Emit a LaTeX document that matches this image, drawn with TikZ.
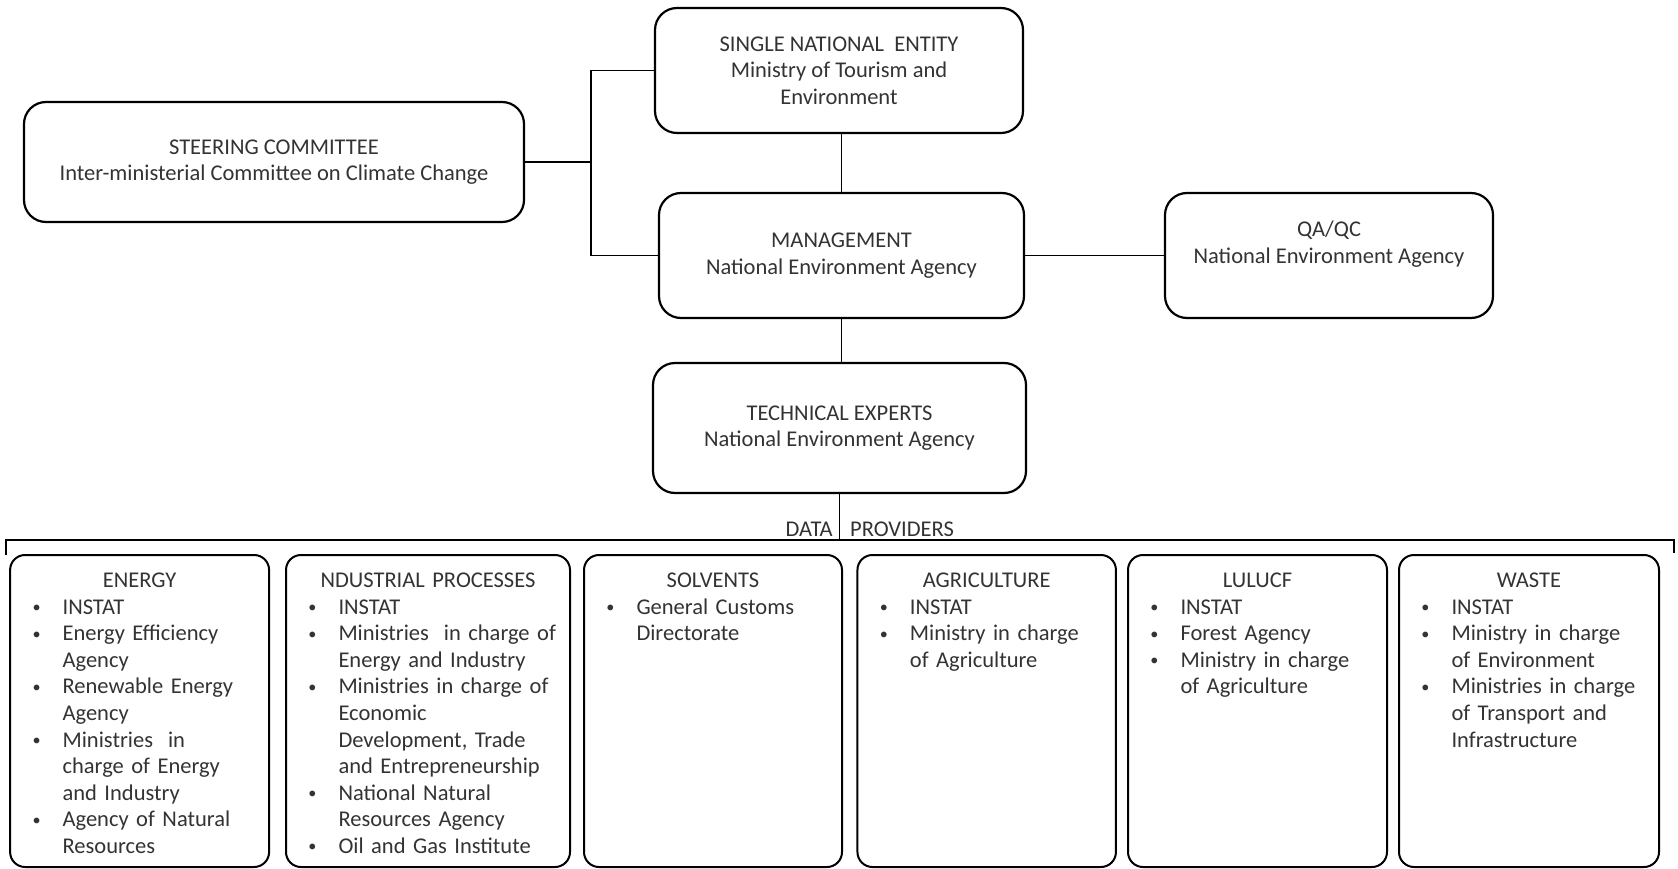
\documentclass[tikz,border=0pt]{standalone}
\usepackage{fontspec}
\setmainfont{Carlito}
\newcommand\bfont{\fontsize{22.5}{26.6}\selectfont}
\newcommand\mybul{\raisebox{1.6pt}{\scalebox{0.72}{\textbullet}}}
\newcommand\bi[1]{\par\noindent\llap{\makebox[0pt]{\mybul}\hspace{26pt}}\mbox{#1}}
\newcommand\cl[1]{\par\noindent\mbox{#1}}
\newcommand\plist[2]{{\centering\strut#1\par}\leftskip=52.5pt\parskip=0pt\parindent=0pt #2\par}
\tikzset{
  box/.style={draw, line width=2.2pt, rounded corners=22pt, inner sep=0pt, align=center, font=\bfont, text=black!80},
  conn/.style={draw, line width=1.3pt},
  prov/.style={draw, line width=2pt, rounded corners=15pt, minimum height=312pt, inner sep=0pt},
  provtext/.style={anchor=north, inner sep=0pt, text width=#1, font=\bfont, text=black!80},
}
\begin{document}
\begin{tikzpicture}[x=1pt,y=-1pt]
\useasboundingbox (0,0) rectangle (1678,869);
% upper boxes
\node[box, minimum width=500pt, minimum height=120pt] (steer) at (274,162) {STEERING COMMITTEE\\Inter-ministerial Committee on Climate Change};
\node[box, minimum width=368pt, minimum height=125pt] (sne) at (839,70.5) {SINGLE NATIONAL\ \ ENTITY\\Ministry of Tourism and\\Environment};
\node[box, minimum width=365pt, minimum height=125pt] (mgmt) at (841.5,255.5) {MANAGEMENT\\National Environment Agency};
\node[box, minimum width=328pt, minimum height=125pt] (qa) at (1329,255.5) {QA/QC\\National Environment Agency\\\mbox{}};
\node[box, minimum width=373pt, minimum height=130pt] (tech) at (839.5,428) {TECHNICAL EXPERTS\\National Environment Agency};
% connectors
\coordinate (j) at (591,162);
\draw[conn] (steer.east) -- (j);
\draw[conn] (sne.west) -| (j) |- (mgmt.west);
\draw[conn] (mgmt.north |- sne.south) -- (mgmt.north);
\draw[conn] (mgmt.east) -- (qa.west);
\draw[conn] (mgmt.south) -- (mgmt.south |- tech.north);
% bracket
\coordinate (bl) at (6,555);
\coordinate (blt) at (6,540);
\coordinate (brt) at (1674,540);
\coordinate (br) at (1674,553);
\draw[conn] (bl) -- (blt) -- (brt) -- (br);
\draw[conn] (tech.south) -- (tech.south |- blt);
\node[anchor=base west, font=\bfont, text=black!80, inner sep=0pt] (dp) at (785.5,536.3) {DATA\hspace{17.5pt}PROVIDERS};
% data provider boxes
\node[prov, minimum width=259pt] (energy) at (139.6,711) {};
\node[prov, minimum width=284pt] (ind) at (428,711) {};
\node[prov, minimum width=258pt] (solv) at (713,711) {};
\node[prov, minimum width=258.5pt] (agri) at (986.7,711) {};
\node[prov, minimum width=259pt] (lulucf) at (1257.5,711) {};
\node[prov, minimum width=260pt] (waste) at (1529,711) {};
\node[provtext=259pt] (energyt) at (139.6,568.6) {\plist{ENERGY}{%
  \bi{INSTAT}\bi{Energy Efficiency}\cl{Agency}\bi{Renewable Energy}\cl{Agency}%
  \bi{Ministries\ \ in}\cl{charge of Energy}\cl{and Industry}\bi{Agency of Natural}\cl{Resources}}};
\node[provtext=284pt] (indt) at (428,568.6) {\plist{NDUSTRIAL PROCESSES}{%
  \bi{INSTAT}\bi{Ministries\ \ in charge of}\cl{Energy and Industry}\bi{Ministries in charge of}%
  \cl{Economic}\cl{Development, Trade}\cl{and Entrepreneurship}\bi{National Natural}\cl{Resources Agency}%
  \bi{Oil and Gas Institute}}};
\node[provtext=258pt] (solvt) at (713,568.6) {\plist{SOLVENTS}{\bi{General Customs}\cl{Directorate}}};
\node[provtext=258.5pt] (agrit) at (986.7,568.6) {\plist{AGRICULTURE}{\bi{INSTAT}\bi{Ministry in charge}\cl{of Agriculture}}};
\node[provtext=259pt] (lulucft) at (1257.5,568.6) {\plist{LULUCF}{\bi{INSTAT}\bi{Forest Agency}\bi{Ministry in charge}\cl{of Agriculture}}};
\node[provtext=260pt] (wastet) at (1529,568.6) {\plist{WASTE}{\bi{INSTAT}\bi{Ministry in charge}\cl{of Environment}\bi{Ministries in charge}\cl{of Transport and}\cl{Infrastructure}}};
\end{tikzpicture}
\end{document}
